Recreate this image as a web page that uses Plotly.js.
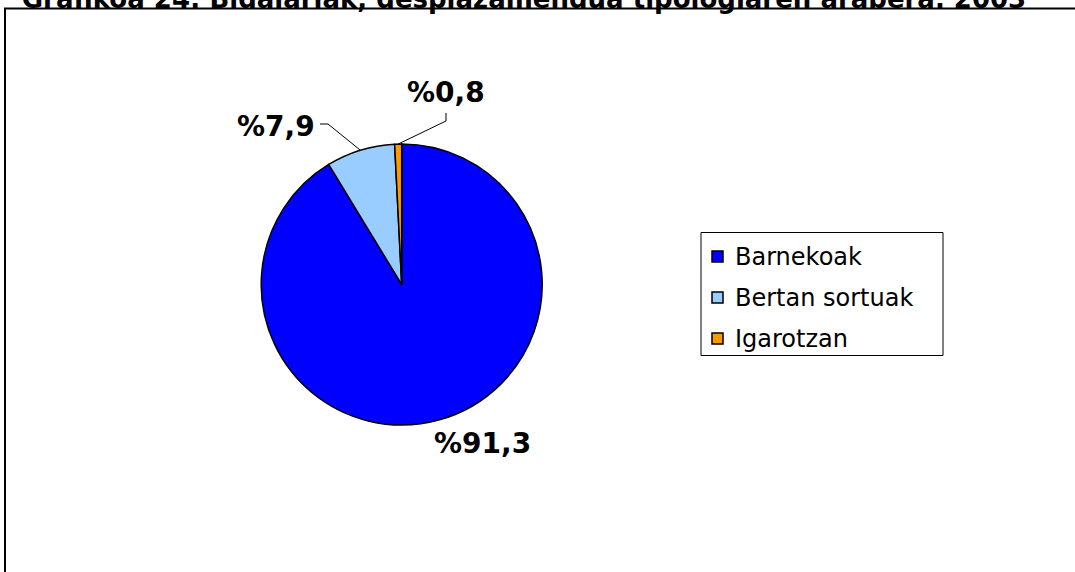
<!DOCTYPE html>
<html>
<head>
<meta charset="utf-8">
<script src="https://cdn.plot.ly/plotly-3.0.1.min.js"></script>
<style>html,body{margin:0;padding:0;background:#fff;overflow:hidden}#chart{width:1075px;height:572px}</style>
</head>
<body>
<div id="chart"></div>
<script>
// ---- data ----
const categories = ["Barnekoak", "Bertan sortuak", "Igarotzan"];
const shares = [91.3, 7.9, 0.8];
const sliceColors = ["#0000FF", "#99CCFF", "#FF9900"];
const chartTitle = "Grafikoa 24: Bidaiariak, desplazamendua tipologiaren arabera. 2003";

// ---- layout constants (pixels) ----
const W = 1075, H = 572;
const cx = 401.7, cy = 284.5, R = 140.5;
const px = x => x / W;
const py = y => 1 - y / H;

const fmt = v => "%" + v.toFixed(1).replace(".", ",");

// mid-angle of each slice (clockwise from 12 o'clock)
const total = shares.reduce((a, b) => a + b, 0);
let cum = 0;
const mids = shares.map(v => { const m = (cum + v / 2) / total * 2 * Math.PI; cum += v; return m; });
const edge = i => [cx + R * Math.sin(mids[i]), cy - R * Math.cos(mids[i])];

// label positions (text centers) and leader elbows
const labelPos = [[482, 443], [276, 126.5], [446, 92.5]];
const elbows = [null, [[320, 124], [328, 124]], [[446, 113], [446, 121]]];

const annotations = [];
const shapes = [];
shares.forEach((v, i) => {
  annotations.push({
    x: px(labelPos[i][0]), y: py(labelPos[i][1]), xref: "paper", yref: "paper",
    text: fmt(v), showarrow: false, xanchor: "center", yanchor: "middle",
    font: {family: "DejaVu Sans", size: 28, color: "#000", weight: "bold"}
  });
  if (elbows[i]) {
    const pts = elbows[i].concat([edge(i)]);
    const d = pts.map((p, k) => (k ? "L" : "M") + px(p[0]) + "," + py(p[1])).join(" ");
    shapes.push({type: "path", xref: "paper", yref: "paper", path: d, line: {color: "#000", width: 1}});
  }
});

// chart frame (extends beyond window on right/bottom)
shapes.push({type: "rect", xref: "paper", yref: "paper", x0: px(5), x1: 1.1, y0: -0.1, y1: py(8.5),
  line: {color: "#000", width: 2}, fillcolor: "rgba(0,0,0,0)"});

// custom legend
const lgBox = {x0: 701, x1: 943, y0: 232.5, y1: 355.5};
shapes.push({type: "rect", xref: "paper", yref: "paper", x0: px(lgBox.x0), x1: px(lgBox.x1),
  y0: py(lgBox.y1), y1: py(lgBox.y0), line: {color: "#000", width: 1}, fillcolor: "#fff"});
const rowY = [256.5, 297.5, 338.5];
categories.forEach((c, i) => {
  shapes.push({type: "rect", xref: "paper", yref: "paper",
    x0: px(712), x1: px(723), y0: py(rowY[i] + 5.5), y1: py(rowY[i] - 5.5),
    line: {color: "#000", width: 1.5}, fillcolor: sliceColors[i]});
  annotations.push({x: px(733), y: py(rowY[i]), xref: "paper", yref: "paper", text: c,
    showarrow: false, xanchor: "left", yanchor: "middle",
    font: {family: "DejaVu Sans", size: 24, color: "#000"}});
});

const trace = {
  type: "pie",
  labels: categories,
  values: shares,
  sort: false,
  direction: "clockwise",
  rotation: 0,
  textinfo: "none",
  hoverinfo: "label+percent",
  marker: {colors: sliceColors, line: {color: "#000", width: 1.5}},
  domain: {x: [px(cx - R), px(cx + R)], y: [py(cy + R), py(cy - R)]},
  showlegend: false
};

const layout = {
  width: W, height: H,
  margin: {l: 0, r: 0, t: 0, b: 0},
  paper_bgcolor: "#fff",
  plot_bgcolor: "#fff",
  showlegend: false,
  title: {text: chartTitle, xref: "paper", x: px(524), xanchor: "center",
    yref: "container", y: 1 - 7.5 / H, yanchor: "bottom",
    font: {family: "DejaVu Sans", size: 26, color: "#000", weight: "bold"}},
  shapes: shapes,
  annotations: annotations
};

Plotly.newPlot("chart", [trace], layout, {staticPlot: true, displayModeBar: false});
</script>
</body>
</html>
